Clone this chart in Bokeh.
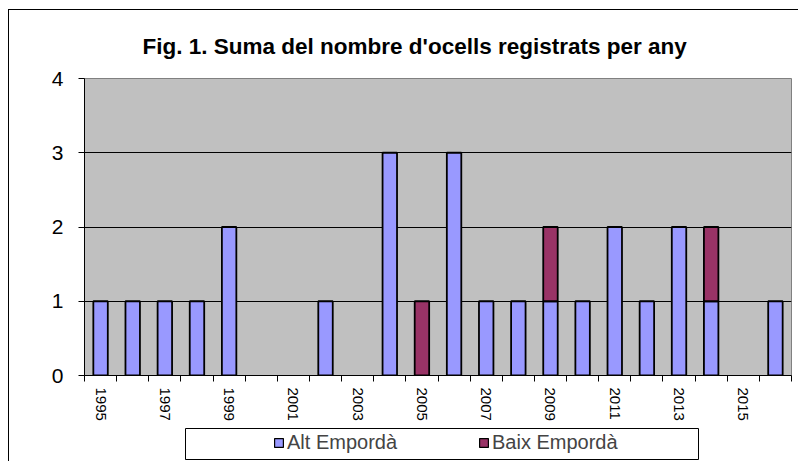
from bokeh.plotting import figure
from bokeh.layouts import column
from bokeh.models import (ColumnDataSource, FixedTicker, Legend, LegendItem, Range1d)
from bokeh.embed import file_html
from bokeh.resources import INLINE

years = list(range(1995, 2017))
alt_emporda = [1, 1, 1, 1, 2, 0, 0, 1, 0, 3, 0, 3, 1, 1, 1, 1, 2, 1, 2, 1, 0, 1]
baix_emporda = [0, 0, 0, 0, 0, 0, 0, 0, 0, 0, 1, 0, 0, 0, 1, 0, 0, 0, 0, 1, 0, 0]
tick_years = list(range(1995, 2017, 2))
y_ticks = [0, 1, 2, 3, 4]
title_text = "Fig. 1. Suma del nombre d'ocells registrats per any"
series_names = ["Alt Empordà", "Baix Empordà"]
colors = ["#9999FF", "#993366"]

FONT = "Liberation Sans"

W = 789
H1, H2 = 416, 35

p = figure(width=W, height=H1, output_backend="svg", toolbar_location=None,
           x_range=Range1d(years[0] - 0.5, years[-1] + 0.5), y_range=Range1d(0, 4),
           min_border_left=75, min_border_right=7, min_border_top=68, min_border_bottom=51)
p.frame_align = False
p.background_fill_color = "#C0C0C0"
p.border_fill_color = "white"
p.outline_line_color = "#808080"
p.outline_line_width = 1

p.title.text = title_text
p.title.align = "left"
p.title.offset = 58
p.title.standoff = 40
p.title.text_font = FONT
p.title.text_font_style = "bold"
p.title.text_font_size = "22.5px"
p.title.text_color = "black"

# stacked bars
a_src = ColumnDataSource(dict(
    x=[y for y, v in zip(years, alt_emporda) if v > 0],
    bottom=[0 for v in alt_emporda if v > 0],
    top=[v for v in alt_emporda if v > 0]))
b_src = ColumnDataSource(dict(
    x=[y for y, a, b in zip(years, alt_emporda, baix_emporda) if b > 0],
    bottom=[a for a, b in zip(alt_emporda, baix_emporda) if b > 0],
    top=[a + b for a, b in zip(alt_emporda, baix_emporda) if b > 0]))

p.vbar(x="x", bottom="bottom", top="top", width=0.45, source=a_src,
       fill_color=colors[0], line_color="black", line_width=1.8)
p.vbar(x="x", bottom="bottom", top="top", width=0.45, source=b_src,
       fill_color=colors[1], line_color="black", line_width=1.8)

# grid
p.xgrid.grid_line_color = None
p.ygrid.ticker = FixedTicker(ticks=y_ticks)
p.ygrid.grid_line_color = "black"
p.ygrid.grid_line_width = 1

# y axis
p.yaxis.ticker = FixedTicker(ticks=y_ticks)
p.yaxis.major_label_text_font = FONT
p.yaxis.major_label_text_font_size = "21px"
p.yaxis.major_label_text_color = "black"
p.yaxis.axis_line_color = "black"
p.yaxis.axis_line_width = 1
p.yaxis.major_tick_line_color = "black"
p.yaxis.major_tick_out = 6
p.yaxis.major_tick_in = 0
p.yaxis.minor_tick_line_color = None
p.yaxis.major_label_standoff = 15

# x axis
boundaries = [y - 0.5 for y in years] + [years[-1] + 0.5]
p.xaxis.ticker = FixedTicker(ticks=tick_years, minor_ticks=boundaries)
p.xaxis.major_tick_line_color = None
p.xaxis.major_tick_out = 0
p.xaxis.major_tick_in = 0
p.xaxis.minor_tick_line_color = "black"
p.xaxis.minor_tick_out = 6
p.xaxis.minor_tick_in = 0
p.xaxis.axis_line_color = "black"
p.xaxis.major_label_orientation = "vertical"
p.xaxis.major_label_text_font = FONT
p.xaxis.major_label_text_font_size = "15px"
p.xaxis.major_label_text_color = "black"
p.xaxis.major_label_standoff = 6

# legend panel
lg = figure(width=W, height=H2, output_backend="svg", toolbar_location=None,
            x_axis_type=None, y_axis_type=None,
            x_range=Range1d(0, 1), y_range=Range1d(0, 1),
            min_border_left=176, min_border_right=100, min_border_top=2, min_border_bottom=2)
lg.frame_align = False
lg.background_fill_color = "white"
lg.border_fill_color = "white"
lg.outline_line_color = "black"
lg.outline_line_width = 1
lg.xgrid.grid_line_color = None
lg.ygrid.grid_line_color = None
d_alt = lg.vbar(x=[-10], top=[0], width=0.5, fill_color=colors[0], line_color="black", line_width=1.2)
d_baix = lg.vbar(x=[-10], top=[0], width=0.5, fill_color=colors[1], line_color="black", line_width=1.2)

legend = Legend(items=[LegendItem(label=series_names[0], renderers=[d_alt]),
                       LegendItem(label=series_names[1], renderers=[d_baix])],
                orientation="horizontal", location=(88, 5), padding=0, margin=0,
                spacing=11, label_width=180, label_standoff=3,
                glyph_width=11, glyph_height=11,
                label_text_font=FONT, label_text_font_size="20px",
                border_line_color=None, background_fill_alpha=0)
lg.add_layout(legend, "center")

layout = column(p, lg, spacing=0,
                styles={"margin-left": "8px", "margin-top": "9px",
                        "border-top": "1px solid black", "border-left": "1px solid black"})

open("out.html", "w").write(file_html(layout, INLINE))
